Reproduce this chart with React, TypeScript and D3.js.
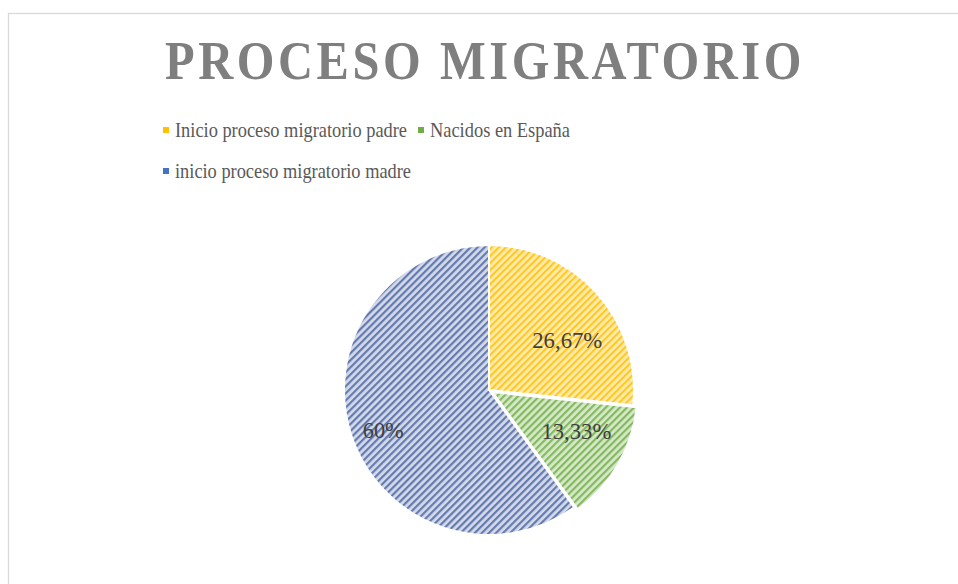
import React from "react";
import * as d3 from "d3";

const categories = ["Inicio proceso migratorio padre", "Nacidos en España", "inicio proceso migratorio madre"];
const values = [26.67, 13.33, 60];
const labels = ["26,67%", "13,33%", "60%"];
const fgColors = ["#FFC000", "#70AD47", "#4A62A0"];
const bgColors = ["#FFEBB0", "#D6E9C8", "#D3DAEA"];
const legendColors = ["#FFC000", "#70AD47", "#4472C4"];

export default function App() {
  const W = 958, H = 584;
  const cx = 489, cy = 390, r = 145;
  const pie = d3.pie<number>().value((d) => d).sort(null);
  const arcs = pie(values);
  const arc = d3.arc<d3.PieArcDatum<number>>().innerRadius(0).outerRadius(r);
  const labelArc = d3.arc<d3.PieArcDatum<number>>().innerRadius(r * 0.68).outerRadius(r * 0.68);
  const labelAdj = [[5, 16], [2, -8], [-12, 10]];
  const labelLen = [70, 70, 41];
  const explode = [0, 4, 0];
  const font = "'Liberation Serif', 'Times New Roman', serif";
  const legendSx = 0.84;
  const titleSx = 0.9;
  const legendItems = [
    { i: 0, x: 163, y: 137, len: 232 },
    { i: 1, x: 418, y: 137, len: 140 },
    { i: 2, x: 163, y: 178, len: 236 },
  ];
  return (
    <svg width={W} height={H} style={{ position: "absolute", left: 0, top: 0 }}>
      <defs>
        {fgColors.map((c, i) => (
          <pattern key={i} id={`pat${i}`} width={5} height={5} patternUnits="userSpaceOnUse" patternTransform="rotate(45)">
            <rect width={5} height={5} fill={bgColors[i]} />
            <rect width={2.2} height={5} fill={c} opacity={0.8} />
          </pattern>
        ))}
      </defs>
      <rect x={0} y={0} width={W} height={H} fill="#fff" />
      <rect x={8.5} y={13.5} width={W + 20} height={H + 20} fill="none" stroke="#D9D9D9" strokeWidth={1.3} />
      <g transform={`translate(165,79) scale(${titleSx},1)`}>
        <text x={0} y={0} textLength={640 / titleSx} lengthAdjust="spacingAndGlyphs" fontFamily={font} fontWeight="bold" fontSize={54} letterSpacing={4} fill="#7F7F7F">
          PROCESO MIGRATORIO
        </text>
      </g>
      {legendItems.map(({ i, x, y, len }) => (
        <g key={i}>
          <rect x={x} y={y - 10} width={6} height={6} fill={legendColors[i]} />
          <g transform={`translate(${x + 12},${y}) scale(${legendSx},1)`}>
            <text x={0} y={0} textLength={len / legendSx} lengthAdjust="spacingAndGlyphs" fontFamily={font} fontSize={22} fill="#595959">
              {categories[i]}
            </text>
          </g>
        </g>
      ))}
      {arcs.map((a, i) => {
        const mid = (a.startAngle + a.endAngle) / 2;
        const ox = Math.sin(mid) * explode[i];
        const oy = -Math.cos(mid) * explode[i];
        return (
          <path key={i} d={arc(a) || ""} transform={`translate(${cx + ox},${cy + oy})`} fill={`url(#pat${i})`} stroke="#fff" strokeWidth={2} />
        );
      })}
      {arcs.map((a, i) => {
        const [lx, ly] = labelArc.centroid(a);
        const x = cx + lx + labelAdj[i][0];
        return (
          <text key={i} x={x - labelLen[i] / 2} y={cy + ly + labelAdj[i][1]} textLength={labelLen[i]} lengthAdjust="spacingAndGlyphs" dominantBaseline="central" fontFamily={font} fontSize={23} fill="#404040">
            {labels[i]}
          </text>
        );
      })}
    </svg>
  );
}
